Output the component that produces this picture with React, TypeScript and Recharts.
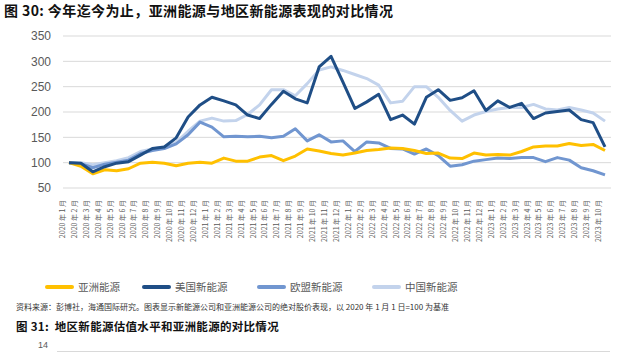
import { LineChart, Line, XAxis, YAxis, CartesianGrid, Legend } from "recharts";

const monthLabels = [
  "2020 年 1 月", "2020 年 2 月", "2020 年 3 月", "2020 年 4 月", "2020 年 5 月", "2020 年 6 月",
  "2020 年 7 月", "2020 年 8 月", "2020 年 9 月", "2020 年 10 月", "2020 年 11 月", "2020 年 12 月",
  "2021 年 1 月", "2021 年 2 月", "2021 年 3 月", "2021 年 4 月", "2021 年 5 月", "2021 年 6 月",
  "2021 年 7 月", "2021 年 8 月", "2021 年 9 月", "2021 年 10 月", "2021 年 11 月", "2021 年 12 月",
  "2022 年 1 月", "2022 年 2 月", "2022 年 3 月", "2022 年 4 月", "2022 年 5 月", "2022 年 6 月",
  "2022 年 7 月", "2022 年 8 月", "2022 年 9 月", "2022 年 10 月", "2022 年 11 月", "2022 年 12 月",
  "2023 年 1 月", "2023 年 2 月", "2023 年 3 月", "2023 年 4 月", "2023 年 5 月", "2023 年 6 月",
  "2023 年 7 月", "2023 年 8 月", "2023 年 9 月", "2023 年 10 月",
];

const asiaEnergy = [
  100, 93, 78, 86, 84, 88, 99, 101, 99, 94, 99, 101,
  99, 109, 103, 103, 111, 114, 104, 113, 127, 123, 118,
  115, 119, 124, 126, 129, 128, 124, 118, 119, 109, 108,
  119, 115, 116, 115, 122, 131, 133, 133, 138, 134, 136, 124,
];
const usNewEnergy = [
  100, 99, 82, 92, 99, 102, 115, 128, 131, 149, 190, 214,
  229, 222, 214, 194, 187, 215, 241, 226, 218, 289, 310,
  259, 207, 220, 235, 185, 194, 176, 229, 244, 223, 228,
  242, 203, 222, 209, 217, 187, 198, 201, 204, 185, 179, 131,
];
const euNewEnergy = [
  100, 98, 90, 97, 101, 105, 118, 124, 128, 137, 155, 180,
  170, 151, 152, 151, 152, 149, 152, 167, 143, 155, 141,
  143, 122, 141, 139, 128, 127, 117, 127, 114, 93, 96,
  103, 106, 109, 108, 110, 110, 102, 110, 105, 90, 84, 76,
];
const chinaNewEnergy = [
  100, 100, 96, 100, 104, 110, 122, 127, 131, 140, 162, 182,
  188, 182, 183, 195, 214, 244, 244, 232, 256, 283, 289,
  282, 274, 266, 253, 218, 221, 250, 250, 229, 203, 182,
  194, 201, 206, 209, 209, 215, 206, 204, 209, 204, 198, 182,
];

const yTicks = [50, 100, 150, 200, 250, 300, 350];

const series = [
  { key: "asia", name: "亚洲能源", color: "#FFC000" },
  { key: "us", name: "美国新能源", color: "#1F4E86" },
  { key: "eu", name: "欧盟新能源", color: "#7196D0" },
  { key: "china", name: "中国新能源", color: "#C3D3EC" },
];

const data = monthLabels.map((label, i) => ({
  label,
  asia: asiaEnergy[i],
  us: usNewEnergy[i],
  eu: euNewEnergy[i],
  china: chinaNewEnergy[i],
}));

const cjk = '"Noto Sans CJK SC", "Liberation Sans", sans-serif';

function MonthTick(props: any) {
  const { x, y, payload } = props;
  return (
    <text
      transform={`translate(${x - 4},${y + 10}) rotate(-90)`}
      textAnchor="end"
      fontSize={7}
      fill="#595959"
      fontFamily={cjk}
    >
      {payload.value}
    </text>
  );
}

function LegendRow() {
  const lefts = [45, 142, 257, 372];
  return (
    <div style={{ position: "relative", width: 624, height: 16 }}>
      {series.map((s, i) => (
        <div
          key={s.key}
          style={{ position: "absolute", left: lefts[i], top: 0, display: "flex", alignItems: "center" }}
        >
          <span style={{ display: "inline-block", width: 29, height: 4, borderRadius: 2, background: s.color }} />
          <span style={{ marginLeft: 4, fontSize: 10.5, color: "#595959", fontFamily: cjk, lineHeight: "16px" }}>
            {s.name}
          </span>
        </div>
      ))}
    </div>
  );
}

export default function App() {
  // light series drawn first so the darker ones sit on top
  const drawOrder = [series[3], series[2], series[0], series[1]];
  return (
    <div style={{ position: "absolute", left: 0, top: 0, width: 624, height: 353, background: "#fff", overflow: "hidden" }}>
      <LineChart width={624} height={353} data={data} margin={{ top: 36, right: 13, left: 0, bottom: 89 }}>
        <CartesianGrid vertical={false} stroke="#D9D9D9" strokeWidth={1} />
        <XAxis
          dataKey="label"
          interval={0}
          height={60}
          padding={{ left: 6, right: 6 }}
          axisLine={false}
          tickLine={false}
          tickSize={0}
          tick={<MonthTick />}
        />
        <YAxis
          width={63}
          domain={[50, 350]}
          ticks={yTicks}
          axisLine={false}
          tickLine={false}
          tickSize={0}
          tickMargin={12}
          tick={{ fontSize: 12, fill: "#595959", fontFamily: '"Liberation Sans", sans-serif' }}
        />
        {drawOrder.map((s) => (
          <Line
            key={s.key}
            dataKey={s.key}
            name={s.name}
            type="linear"
            stroke={s.color}
            strokeWidth={3}
            dot={false}
            isAnimationActive={false}
            strokeLinejoin="round"
          />
        ))}
        <Legend
          content={() => <LegendRow />}
          wrapperStyle={{ position: "absolute", left: 0, top: 279, width: 624 }}
        />
      </LineChart>

      <div style={{ position: "absolute", left: 4, top: 0, fontSize: 14, fontWeight: "bold", fontFamily: cjk, color: "#111", letterSpacing: 0.4, whiteSpace: "nowrap" }}>
        图 30:&nbsp;今年迄今为止，亚洲能源与地区新能源表现的对比情况
      </div>
      <div style={{ position: "absolute", left: 16, top: 301, fontSize: 8, fontFamily: cjk, color: "#333", whiteSpace: "nowrap" }}>
        资料来源：彭博社，海通国际研究。图表显示新能源公司和亚洲能源公司的绝对股价表现，以 2020 年 1 月 1 日=100 为基准
      </div>
      <div style={{ position: "absolute", left: 16, top: 318, fontSize: 11.5, fontWeight: "bold", fontFamily: cjk, color: "#111", letterSpacing: 0.3, whiteSpace: "nowrap" }}>
        图 31:&nbsp;&nbsp;地区新能源估值水平和亚洲能源的对比情况
      </div>
      <div style={{ position: "absolute", left: 38, top: 340, fontSize: 9, lineHeight: "10px", fontFamily: '"Liberation Sans", sans-serif', color: "#595959" }}>
        14
      </div>
      <div style={{ position: "absolute", left: 57, top: 351, width: 553, height: 1, background: "#D9D9D9" }} />
    </div>
  );
}
